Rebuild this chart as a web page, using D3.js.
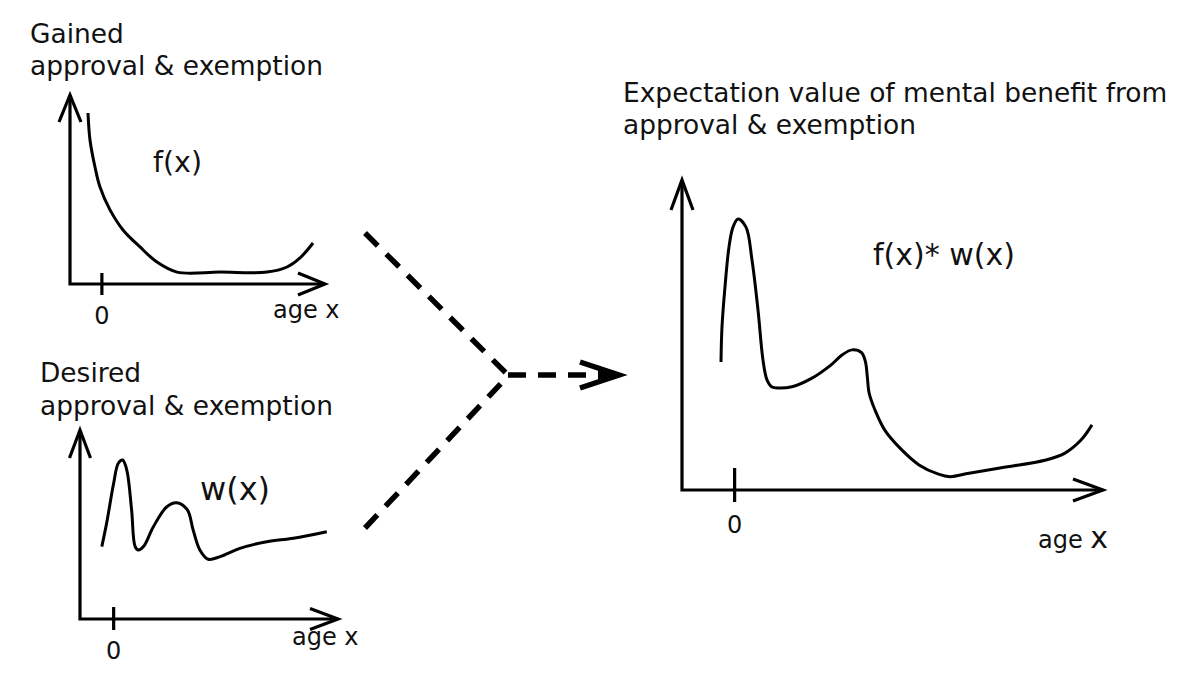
<!DOCTYPE html>
<html><head><meta charset="utf-8">
<script src="https://cdn.jsdelivr.net/npm/d3@7"></script>
<style>html,body{margin:0;padding:0;background:#fff;} svg{display:block;}</style>
</head><body>
<svg id="c" width="1200" height="673"></svg>
<script>
// ---------------- data ----------------
const fAges = [-4.35, -3.73, -2.16, -0.59, 2.55, 6.63, 11.96, 17.29, 23.57, 37.06, 51.8, 58.08, 62.16, 66.24];
const fVals = [90.5, 76.2, 61.9, 51.3, 39.2, 28.6, 19.6, 11.6, 6.3, 6.3, 6.3, 9.0, 13.8, 21.7];

const wAges = [-3.7, -2.2, 0.0, 1.45, 2.8, 4.1, 5.6, 6.7, 7.7, 9.3, 12.4, 16.6, 19.7, 23.0, 24.8, 26.9, 29.5, 33.2, 39.4, 47.8, 56.1, 66.5];
const wVals = [38.3, 50.6, 71.8, 82.4, 84.1, 78.8, 57.7, 38.3, 36.5, 38.3, 48.8, 59.4, 61.5, 57.7, 47.1, 36.5, 31.6, 33.0, 37.4, 40.9, 42.7, 46.2];

const fwAges = [-2.59, -2.4, -1.83, -1.07, -0.31, 0.64, 2.16, 3.3, 4.44, 5.39, 6.15, 7.1, 8.43, 10.9, 14.61, 18.28, 20.46, 22.3, 24.11, 24.85, 25.21, 25.57, 26.67, 28.5, 31.43, 35.04, 38.74, 40.93, 44.54, 50.43, 59.17, 62.78, 65.82, 67.91];
const fwVals = [41.3, 52.6, 65.5, 78.4, 84.8, 87.4, 84.8, 74.2, 58.1, 41.9, 35.5, 33.2, 32.9, 33.3, 36.0, 40.3, 43.6, 45.2, 44.3, 41.4, 36.6, 31.2, 25.8, 19.4, 13.5, 8.1, 5.1, 4.3, 5.4, 7.1, 9.7, 11.9, 16.1, 21.0];

const tickValues = [0];
const tickLabels = ["0"];
const xAxisWord = "age";
const xAxisVar = "x";
const gainedLabel = ["Gained", "approval & exemption"];
const desiredLabel = ["Desired", "approval & exemption"];
const productTitle = ["Expectation value of mental benefit from", "approval & exemption"];
const fLabel = "f(x)";
const wLabel = "w(x)";
const fwLabel = "f(x)* w(x)";

// ---------------- layout ----------------
const FONT = "'DejaVu Sans', 'Noto Sans', sans-serif";
const svg = d3.select("#c");

function fitSize(str, width) {
  const t = svg.append("text").attr("font-family", FONT).attr("font-size", 100).text(str);
  const s = 100 * width / t.node().getComputedTextLength();
  t.remove();
  return s;
}
const headSize = Math.min(fitSize(gainedLabel[1], 293), 27);

const panels = [
  { ages: fAges, vals: fVals, xDomain: [-10, 70], xRange: [70, 325], yRange: [284, 95],
    head: 27, spread: 11, tickUp: 11, tickDown: 11,
    heading: gainedLabel, headX: 30, headY: [43, 75],
    curveLabel: fLabel, clX: 153, clY: 172, clW: 49,
    tickLabelY: 324, ageX: 273, ageY: 318, ageSize: 24, varSize: 24 },
  { ages: wAges, vals: wVals, xDomain: [-10.5, 70], xRange: [80, 338], yRange: [619, 430],
    head: 28, spread: 10.5, tickUp: 12, tickDown: 11,
    heading: desiredLabel, headX: 40, headY: [382, 415],
    curveLabel: wLabel, clX: 200, clY: 500, clW: 75,
    tickLabelY: 659, ageX: 292, ageY: 645, ageSize: 24, varSize: 24 },
  { ages: fwAges, vals: fwVals, xDomain: [-10, 70], xRange: [682, 1103], yRange: [490, 180],
    head: 30, spread: 11, tickUp: 22, tickDown: 12,
    heading: productTitle, headX: 623, headY: [102, 134],
    curveLabel: fwLabel, clX: 873, clY: 265, clW: 142,
    tickLabelY: 533, ageX: 1038, ageY: 548, ageSize: 24, varSize: 30 }
];

panels.forEach(p => {
  const x = d3.scaleLinear().domain(p.xDomain).range(p.xRange);
  const y = d3.scaleLinear().domain([0, 100]).range(p.yRange);
  const g = svg.append("g");
  const x0 = p.xRange[0], x1 = p.xRange[1], y0 = p.yRange[0], y1 = p.yRange[1];

  // axes with open arrowheads
  g.append("path")
    .attr("d", `M${x0},${y1}V${y0}H${x1}`)
    .attr("fill", "none").attr("stroke", "#000").attr("stroke-width", 3.2)
    .attr("stroke-linejoin", "miter");
  g.append("path")
    .attr("d", `M${x0 - p.spread},${y1 + p.head}L${x0},${y1}L${x0 + p.spread},${y1 + p.head}`)
    .attr("fill", "none").attr("stroke", "#000").attr("stroke-width", 3.2);
  g.append("path")
    .attr("d", `M${x1 - p.head},${y0 - p.spread}L${x1},${y0}L${x1 - p.head},${y0 + p.spread}`)
    .attr("fill", "none").attr("stroke", "#000").attr("stroke-width", 3.2);

  // tick(s)
  tickValues.forEach((t, i) => {
    g.append("line")
      .attr("x1", x(t)).attr("x2", x(t))
      .attr("y1", y0 - p.tickUp).attr("y2", y0 + p.tickDown)
      .attr("stroke", "#000").attr("stroke-width", 3.2);
    g.append("text")
      .attr("x", x(t)).attr("y", p.tickLabelY)
      .attr("text-anchor", "middle")
      .attr("font-family", FONT).attr("font-size", 24).attr("fill", "#111")
      .text(tickLabels[i]);
  });

  // x axis title
  const at = g.append("text").attr("x", p.ageX).attr("y", p.ageY)
    .attr("font-family", FONT).attr("fill", "#111");
  at.append("tspan").attr("font-size", p.ageSize).text(xAxisWord + " ");
  at.append("tspan").attr("font-size", p.varSize).text(xAxisVar);

  // heading
  p.heading.forEach((s, i) => {
    g.append("text").attr("x", p.headX).attr("y", p.headY[i])
      .attr("font-family", FONT).attr("font-size", headSize).attr("fill", "#111")
      .text(s);
  });

  // curve label
  g.append("text").attr("x", p.clX).attr("y", p.clY)
    .attr("font-family", FONT).attr("font-size", Math.min(fitSize(p.curveLabel, p.clW), 32)).attr("fill", "#111")
    .text(p.curveLabel);

  // curve
  const pts = p.ages.map((a, i) => [a, p.vals[i]]);
  const line = d3.line().x(d => x(d[0])).y(d => y(d[1])).curve(d3.curveCatmullRom.alpha(0.5));
  g.append("path").attr("d", line(pts))
    .attr("fill", "none").attr("stroke", "#000").attr("stroke-width", 3)
    .attr("stroke-linecap", "butt").attr("stroke-linejoin", "round");
});

// ---------------- dashed connector ----------------
const join = [508, 375];
const connectors = [
  [[365, 233], join],
  [[365, 528], [join[0], join[1] + 1]],
  [join, [608, join[1]]]
];
connectors.forEach(c => {
  svg.append("path").attr("d", d3.line()(c))
    .attr("fill", "none").attr("stroke", "#000").attr("stroke-width", 5.5)
    .attr("stroke-dasharray", "18,12");
});
svg.append("path")
  .attr("d", `M580,362L619,375L580,388`)
  .attr("fill", "none").attr("stroke", "#000").attr("stroke-width", 5.5)
  .attr("stroke-linejoin", "miter");
svg.append("path")
  .attr("d", `M598,369L621,375L598,381Z`)
  .attr("fill", "#000");
</script>
</body></html>
